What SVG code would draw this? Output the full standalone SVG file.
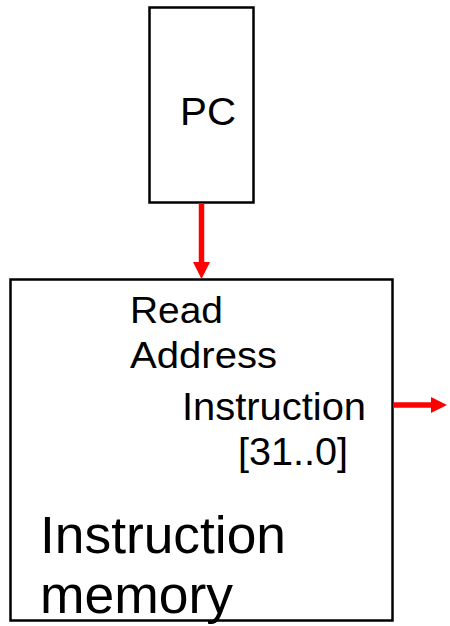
<svg xmlns="http://www.w3.org/2000/svg" width="450" height="626" viewBox="0 0 450 626">
  <style>
    .box { fill: #ffffff; stroke: #000000; stroke-width: 2.5; }
    .lbl { font-family: "Liberation Sans", Arial, sans-serif; fill: #000000; }
    .wire { stroke: #ff0000; stroke-width: 5.5; fill: none; }
    .head { fill: #ff0000; }
  </style>
  <rect width="450" height="626" fill="#ffffff"/>

  <g id="pc">
    <rect class="box" x="149.5" y="7.5" width="104" height="195"/>
    <text class="lbl" x="180" y="125" font-size="38" textLength="56" lengthAdjust="spacingAndGlyphs">PC</text>
  </g>

  <g id="instruction-memory">
    <rect class="box" x="10.5" y="279.5" width="382" height="341"/>
    <text class="lbl" x="130" y="323" font-size="37" textLength="93" lengthAdjust="spacingAndGlyphs">Read</text>
    <text class="lbl" x="130" y="368" font-size="37" textLength="147" lengthAdjust="spacingAndGlyphs">Address</text>
    <text class="lbl" x="182" y="420" font-size="38" textLength="184" lengthAdjust="spacingAndGlyphs">Instruction</text>
    <text class="lbl" x="238" y="465" font-size="38" textLength="110" lengthAdjust="spacingAndGlyphs">[31..0]</text>
    <text class="lbl" x="40" y="553" font-size="51" textLength="246" lengthAdjust="spacingAndGlyphs">Instruction</text>
    <text class="lbl" x="40" y="613" font-size="51" textLength="193" lengthAdjust="spacingAndGlyphs">memory</text>
  </g>

  <g id="connectors">
    <!-- PC to read address -->
    <line class="wire" x1="201.5" y1="203" x2="201.5" y2="264"/>
    <polygon class="head" points="193,262 210,262 201.5,279"/>
    <!-- instruction output -->
    <line class="wire" x1="393" y1="405" x2="433" y2="405"/>
    <polygon class="head" points="431,397 431,413 447,405"/>
  </g>
</svg>
